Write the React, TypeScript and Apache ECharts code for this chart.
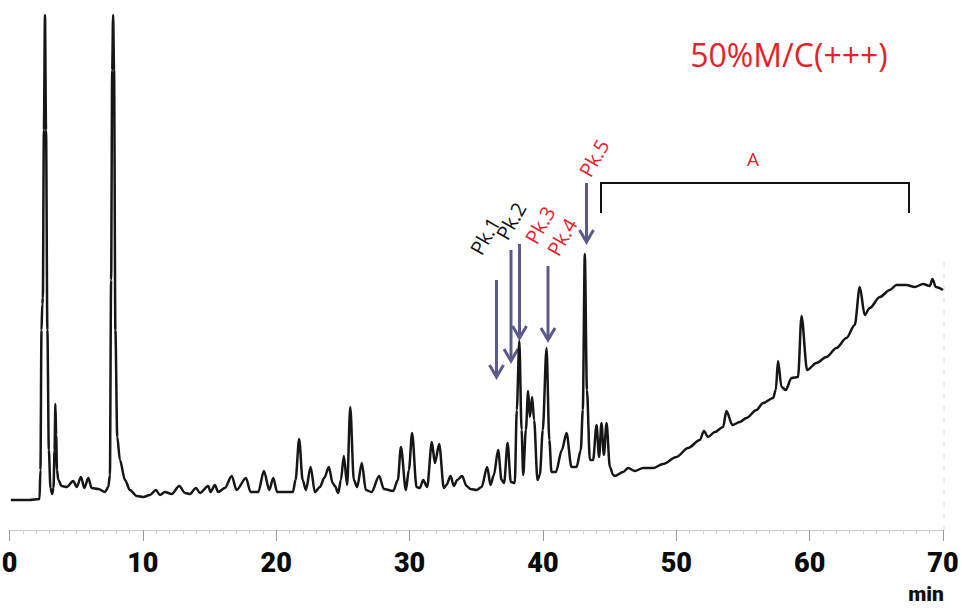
import React, { useEffect, useRef } from "react";
import * as echarts from "echarts";

// Retention time (min) and detector signal (arbitrary units)
const retentionMin = [
  0.1, 1.5, 2.25, 2.32, 2.4, 2.46, 2.5, 2.58, 2.66, 2.74, 2.84, 2.95, 3.07, 3.2, 3.3, 3.38, 3.44, 3.5, 3.56, 3.66,
  3.91, 4.29, 4.78, 5.04, 5.36, 5.61, 5.91, 6.16, 6.66, 7.16, 7.41, 7.53, 7.62, 7.7, 7.77, 7.84, 7.94, 8.08, 8.28, 8.66,
  9.03, 9.54, 10.03, 10.53, 10.98, 11.28, 11.66, 12.16, 12.73, 13.16, 13.53, 13.98, 14.28, 14.9, 15.08, 15.4, 15.65, 16.15, 16.66, 17.03,
  17.73, 18.08, 18.65, 19.08, 19.48, 19.78, 20.07, 20.9, 21.25, 21.45, 21.72, 21.98, 22.23, 22.58, 22.9, 23.28, 23.6, 23.95, 24.23, 24.4,
  24.65, 24.85, 25.07, 25.32, 25.55, 25.82, 26.07, 26.42, 26.72, 27.15, 27.72, 28.07, 28.77, 29.12, 29.35, 29.72, 29.95, 30.19, 30.52, 30.77,
  31.02, 31.32, 31.67, 31.9, 32.22, 32.57, 32.77, 33.07, 33.32, 33.57, 33.94, 34.27, 34.57, 35.02, 35.4, 35.82, 36.07, 36.32, 36.64, 36.9,
  37.09, 37.35, 37.59, 37.89, 38.04, 38.23, 38.4, 38.52, 38.72, 38.89, 39.02, 39.19, 39.34, 39.59, 39.77, 39.99, 40.27, 40.48, 40.64, 40.97,
  41.42, 41.77, 42.14, 42.52, 42.84, 42.99, 43.14, 43.3, 43.52, 43.76, 44.02, 44.21, 44.39, 44.57, 44.77, 45.02, 45.27, 45.39, 46.01, 46.39,
  46.89, 47.51, 48.26, 49.01, 50.01, 50.88, 51.77, 52.07, 52.38, 52.89, 53.51, 53.76, 54.21, 54.76, 55.26, 56.01, 56.51, 57.26, 57.46, 57.63,
  57.89, 58.21, 58.64, 59.13, 59.39, 59.81, 60.51, 61.26, 62.01, 62.76, 63.38, 63.76, 64.13, 64.51, 65.26, 66.01, 66.51, 67.26, 67.88, 68.51,
  69.01, 69.21, 69.46, 70.0,
];
const signal = [
  30, 30, 31, 60, 200, 226, 232, 400, 515, 400, 200, 80, 42, 36, 42, 80, 126, 95, 60, 50,
  44, 43, 49, 43, 53, 42, 52, 42, 41, 38, 43, 55, 250, 460, 515, 460, 200, 93, 70, 50,
  40, 34, 33, 35, 40, 35, 38, 36, 44, 37, 36, 42, 37, 44, 38, 45, 38, 42, 54, 40,
  52, 38, 38, 59, 40, 52, 38, 38, 38, 50, 91, 50, 40, 63, 38, 43, 52, 63, 47, 44,
  37, 50, 74, 45, 123, 50, 43, 67, 40, 38, 54, 41, 39, 50, 83, 40, 60, 97, 43, 42,
  50, 43, 88, 67, 86, 42, 45, 54, 44, 50, 54, 44, 41, 40, 43, 63, 45, 55, 80, 50,
  47, 87, 48, 47, 120, 189, 100, 55, 100, 139, 113, 133, 110, 50, 55, 100, 182, 90, 58, 58,
  80, 97, 63, 63, 80, 120, 276, 140, 70, 70, 105, 73, 107, 75, 107, 63, 55, 54, 58, 62,
  59, 62, 62, 66, 73, 82, 90, 99, 93, 98, 103, 119, 105, 108, 112, 120, 127, 132, 140, 169,
  143, 140, 152, 153, 214, 160, 167, 173, 182, 192, 205, 243, 215, 222, 233, 240, 245, 245, 243, 246,
  244, 251, 243, 240,
];

const peakLabels = ["Pk.1", "Pk.2", "Pk.3", "Pk.4", "Pk.5"];
const regionLabel = "A";
const sampleTitle = "50%M/C(+++)";
const timeUnit = "min";

export default function App() {
  const ref = useRef<HTMLDivElement>(null);

  useEffect(() => {
    const chart = echarts.init(ref.current!, null, { renderer: "svg" });
    const data = retentionMin.map((t, i) => [t, signal[i]]);

    const arrowColor = "#5a5a8e";
    const red = "#e3232a";
    const tickFont = 'Roboto, "Liberation Sans", sans-serif';
    const arrowGeom = [
      { x: 496.5, top: 280, tip: 377, lx: 485, ly: 236, color: "#111" },
      { x: 511, top: 250, tip: 361, lx: 511, ly: 221, color: "#111" },
      { x: 519.5, top: 244, tip: 338, lx: 540, ly: 225, color: red },
      { x: 548, top: 266, tip: 340, lx: 562, ly: 237, color: red },
      { x: 586.5, top: 183, tip: 242, lx: 594, ly: 158, color: red },
    ];

    const graphics: any[] = [];
    arrowGeom.forEach((a, i) => {
      graphics.push({
        type: "line",
        shape: { x1: a.x, y1: a.top, x2: a.x, y2: a.tip - 1 },
        style: { stroke: arrowColor, lineWidth: 3 },
        silent: true,
      });
      graphics.push({
        type: "polyline",
        shape: { points: [[a.x - 7, a.tip - 12], [a.x, a.tip], [a.x + 7, a.tip - 12]] },
        style: { stroke: arrowColor, lineWidth: 3, fill: "none" },
        silent: true,
      });
      graphics.push({
        type: "text",
        x: a.lx,
        y: a.ly,
        rotation: Math.PI / 3,
        style: {
          text: peakLabels[i],
          fill: a.color,
          font: '20px "Open Sans", sans-serif',
          align: "center",
          verticalAlign: "middle",
        },
        silent: true,
      });
    });

    graphics.push({
      type: "polyline",
      shape: { points: [[601, 213], [601, 183], [909, 183], [909, 213]] },
      style: { stroke: "#111", lineWidth: 2, fill: "none" },
      silent: true,
    });
    graphics.push({
      type: "text",
      x: 753,
      y: 159,
      style: { text: regionLabel, fill: red, font: '19px "Open Sans", sans-serif', align: "center", verticalAlign: "middle" },
      silent: true,
    });
    graphics.push({
      type: "text",
      x: 789,
      y: 54,
      style: { text: sampleTitle, fill: red, font: '32px "Open Sans", sans-serif', align: "center", verticalAlign: "middle" },
      silent: true,
    });
    graphics.push({
      type: "text",
      x: 926,
      y: 594,
      style: {
        text: timeUnit,
        fill: "#111",
        font: "900 21px " + tickFont,
        align: "center",
        verticalAlign: "middle",
      },
      silent: true,
    });
    graphics.push({
      type: "line",
      shape: { x1: 944, y1: 262, x2: 944, y2: 530 },
      style: { stroke: "#d8d8d8", lineWidth: 1, lineDash: [5, 7] },
      silent: true,
    });

    chart.setOption({
      animation: false,
      backgroundColor: "#ffffff",
      grid: { left: 9.5, right: 19, top: 0, bottom: 78, outerBoundsMode: "none", containLabel: false },
      xAxis: {
        type: "value",
        min: 0,
        max: 70,
        interval: 10,
        axisLine: { show: true, lineStyle: { color: "#c4c4c4", width: 1, type: "dotted" } },
        axisTick: { show: true, length: 11, lineStyle: { color: "#9a9a9a", width: 1 } },
        minorTick: { show: true, splitNumber: 10, length: 4, lineStyle: { color: "#d0d0d0" } },
        splitLine: { show: false },
        axisLabel: {
          margin: 19,
          color: "#0a0a0a",
          fontSize: 27,
          fontWeight: 900,
          fontFamily: tickFont,
        },
      },
      yAxis: {
        type: "value",
        min: 0,
        max: 530,
        show: false,
        splitLine: { show: false },
      },
      series: [
        {
          type: "line",
          data,
          showSymbol: false,
          symbol: "none",
          smooth: 0.3,
          smoothMonotone: "x",
          lineStyle: { color: "#161616", width: 2.5, join: "round" },
          clip: false,
        },
      ],
      graphic: graphics,
    });

    return () => chart.dispose();
  }, []);

  return <div ref={ref} style={{ position: "absolute", left: 0, top: 0, width: 962, height: 608 }} />;
}
